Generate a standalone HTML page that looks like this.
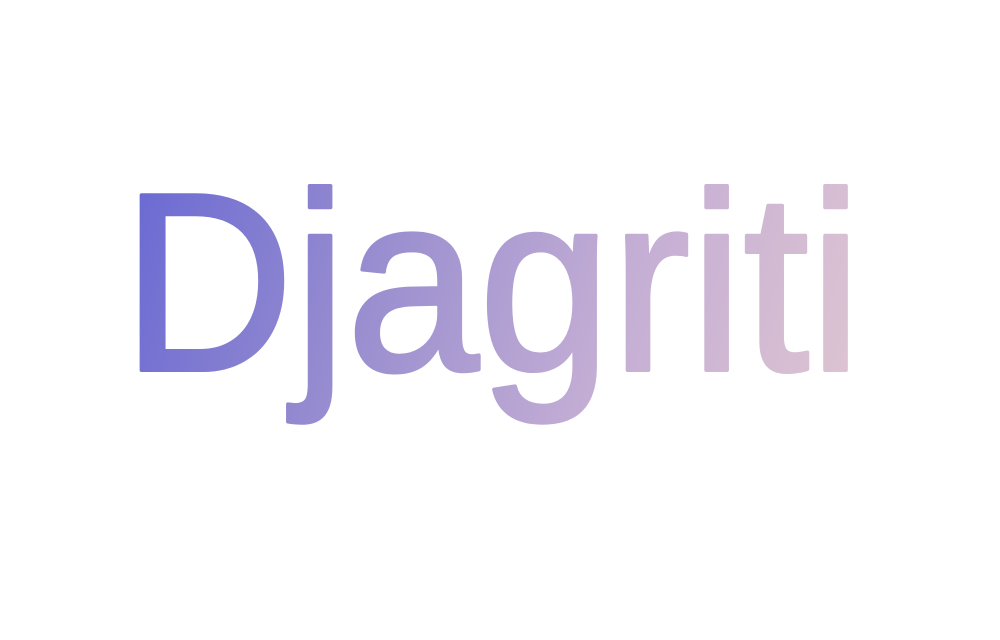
<!DOCTYPE html>
<html>
<head>
<meta charset="utf-8">
<style>
  html, body { margin: 0; padding: 0; background: #ffffff; }
  body { width: 1000px; height: 640px; overflow: hidden; }
  svg { display: block; }
</style>
</head>
<body>
<svg width="1000" height="640" viewBox="0 0 1000 640">
  <defs>
    <linearGradient id="grad" x1="130" y1="200" x2="870" y2="420" gradientUnits="userSpaceOnUse">
      <stop offset="0" stop-color="#6a6ad2"/>
      <stop offset="0.35" stop-color="#9c90d0"/>
      <stop offset="0.65" stop-color="#c4aed4"/>
      <stop offset="1" stop-color="#e0c6d2"/>
    </linearGradient>
  </defs>
  <rect x="0" y="0" width="1000" height="640" fill="#ffffff"/>
  <text x="122" y="370" font-family="'Liberation Sans', 'DejaVu Sans', sans-serif" font-size="254"
        textLength="740" lengthAdjust="spacingAndGlyphs" fill="url(#grad)"
        stroke="url(#grad)" stroke-width="4" stroke-linejoin="round"
       >Djagriti</text>
</svg>
</body>
</html>
